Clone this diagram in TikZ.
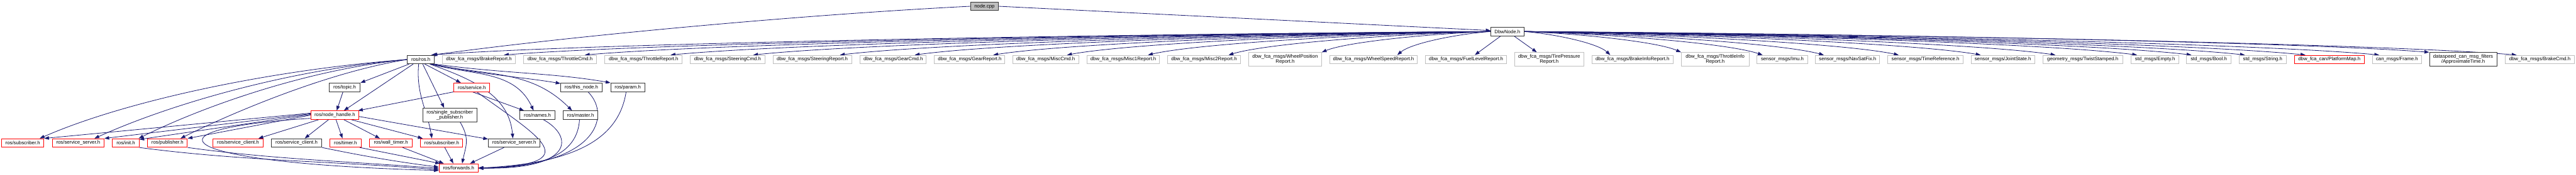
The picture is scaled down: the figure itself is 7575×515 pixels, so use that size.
\documentclass[tikz,border=0pt]{standalone}
\usepackage{fontspec}
\setmainfont{Liberation Sans}
\usetikzlibrary{arrows.meta}
\definecolor{edgec}{HTML}{191970}
\definecolor{greyb}{HTML}{BFBFBF}
\definecolor{redb}{HTML}{FF0000}
\definecolor{rootf}{HTML}{BFBFBF}
\definecolor{docb}{HTML}{333333}
\pgfdeclarelayer{bg}
\pgfsetlayers{bg,main}
\tikzset{
  box/.style={draw, fill=white, line width=1.8pt, inner sep=0pt, align=center,
    font=\fontsize{14.4}{15.5}\selectfont},
  doc/.style={box, draw=docb},
  undoc/.style={box, draw=greyb},
  trunc/.style={box, draw=redb},
  root/.style={box, draw=docb, fill=rootf},
  edge/.style={draw=edgec, line width=1.5pt, -{Triangle[length=14pt,width=10pt]}},
}
\newcommand{\bx}[7]{\node[#6, minimum width={(#3-#2)*1pt}, minimum height={(#5-#4)*1pt}] (#1) at ({(#2+#3)/2},{-(#4+#5)/2}) {#7};}
\begin{document}
\begin{tikzpicture}[x=1pt,y=1pt]
\useasboundingbox (0,0) rectangle (7575,-515);
% row 0/1
\bx{cpp}{2854}{2936}{6}{31}{root}{node.cpp}
\bx{dbw}{4384}{4481}{80}{106}{doc}{DbwNode.h}
% row 2
\bx{ros}{1198}{1277}{163}{188}{doc}{ros/ros.h}
\bx{brep}{1301}{1516}{163}{188}{undoc}{dbw\_fca\_msgs/BrakeReport.h}
\bx{tcmd}{1540}{1754}{163}{188}{undoc}{dbw\_fca\_msgs/ThrottleCmd.h}
\bx{trep}{1779}{2006}{163}{188}{undoc}{dbw\_fca\_msgs/ThrottleReport.h}
\bx{scmd}{2030}{2249}{163}{188}{undoc}{dbw\_fca\_msgs/SteeringCmd.h}
\bx{srep}{2273}{2504}{163}{188}{undoc}{dbw\_fca\_msgs/SteeringReport.h}
\bx{gcmd}{2529}{2724}{163}{188}{undoc}{dbw\_fca\_msgs/GearCmd.h}
\bx{grep}{2748}{2955}{163}{188}{undoc}{dbw\_fca\_msgs/GearReport.h}
\bx{mcmd}{2978}{3172}{163}{188}{undoc}{dbw\_fca\_msgs/MiscCmd.h}
\bx{mone}{3196}{3410}{163}{188}{undoc}{dbw\_fca\_msgs/Misc1Report.h}
\bx{mtwo}{3434}{3647}{163}{188}{undoc}{dbw\_fca\_msgs/Misc2Report.h}
\bx{wpos}{3672}{3886}{155}{195}{undoc}{dbw\_fca\_msgs/WheelPosition\\Report.h}
\bx{wspd}{3910}{4168}{163}{188}{undoc}{dbw\_fca\_msgs/WheelSpeedReport.h}
\bx{fuel}{4192}{4430}{163}{188}{undoc}{dbw\_fca\_msgs/FuelLevelReport.h}
\bx{tire}{4454}{4657}{155}{195}{undoc}{dbw\_fca\_msgs/TirePressure\\Report.h}
\bx{binfo}{4681}{4920}{163}{188}{undoc}{dbw\_fca\_msgs/BrakeInfoReport.h}
\bx{tinfo}{4944}{5143}{155}{195}{undoc}{dbw\_fca\_msgs/ThrottleInfo\\Report.h}
\bx{imu}{5167}{5315}{163}{188}{undoc}{sensor\_msgs/Imu.h}
\bx{nav}{5339}{5527}{163}{188}{undoc}{sensor\_msgs/NavSatFix.h}
\bx{tref}{5551}{5773}{163}{188}{undoc}{sensor\_msgs/TimeReference.h}
\bx{joint}{5796}{5983}{163}{188}{undoc}{sensor\_msgs/JointState.h}
\bx{twist}{6007}{6242}{163}{188}{undoc}{geometry\_msgs/TwistStamped.h}
\bx{empty}{6267}{6407}{163}{188}{undoc}{std\_msgs/Empty.h}
\bx{bool}{6430}{6560}{163}{188}{undoc}{std\_msgs/Bool.h}
\bx{string}{6584}{6723}{163}{188}{undoc}{std\_msgs/String.h}
\bx{pmap}{6747}{6952}{163}{188}{trunc}{dbw\_fca\_can/PlatformMap.h}
\bx{frame}{6977}{7120}{163}{188}{undoc}{can\_msgs/Frame.h}
\bx{approx}{7144}{7342}{155}{195}{doc}{dataspeed\_can\_msg\_filters\\/ApproximateTime.h}
\bx{bcmd}{7367}{7570}{163}{188}{undoc}{dbw\_fca\_msgs/BrakeCmd.h}
% row 3
\bx{topic}{968}{1059}{245}{270}{doc}{ros/topic.h}
\bx{serv}{1335}{1440}{245}{270}{trunc}{ros/service.h}
\bx{thisn}{1649}{1770}{245}{270}{doc}{ros/this\_node.h}
\bx{param}{1796}{1896}{245}{270}{doc}{ros/param.h}
% row 4
\bx{nh}{914}{1055}{327}{352}{trunc}{ros/node\_handle.h}
\bx{ssp}{1243}{1402}{319}{359}{doc}{ros/single\_subscriber\\\_publisher.h}
\bx{names}{1529}{1632}{327}{352}{doc}{ros/names.h}
\bx{master}{1656}{1758}{327}{352}{doc}{ros/master.h}
% row 5
\bx{subA}{5}{129}{409}{434}{trunc}{ros/subscriber.h}
\bx{ssA}{154}{306}{409}{434}{trunc}{ros/service\_server.h}
\bx{init}{331}{409}{409}{434}{trunc}{ros/init.h}
\bx{pub}{434}{551}{409}{434}{trunc}{ros/publisher.h}
\bx{scA}{626}{774}{409}{434}{trunc}{ros/service\_client.h}
\bx{scB}{798}{946}{409}{434}{doc}{ros/service\_client.h}
\bx{timer}{970}{1062}{409}{434}{trunc}{ros/timer.h}
\bx{wtimer}{1086}{1213}{409}{434}{trunc}{ros/wall\_timer.h}
\bx{subB}{1237}{1361}{409}{434}{trunc}{ros/subscriber.h}
\bx{ssB}{1436}{1588}{409}{434}{doc}{ros/service\_server.h}
% row 6
\bx{fwd}{1291}{1406}{483}{508}{trunc}{ros/forwards.h}

\begin{pgfonlayer}{bg}
% node.cpp
\draw[edge] (cpp.west) .. controls +(-500,-25) and +(400,55) .. ([xshift=-6pt]ros.north east);
\draw[edge] (cpp.east) -- ([yshift=3pt]dbw.west);
% DbwNode to the left: target / xshift / dx / dy
\foreach \tg/\sh/\dx/\dy in {brep/-35pt/2903/70,tcmd/-35pt/2665/70,trep/-35pt/2413/70,scmd/-35pt/2170/70,srep/-35pt/1915/70,gcmd/-35pt/1695/70,grep/-35pt/1464/70,mcmd/-35pt/1247/70,mone/-35pt/1009/70,mtwo/-35pt/772/70,ros/-10pt/3117/70,wpos/0pt/498/62,wspd/-60pt/276/70}
  \draw[edge] (dbw.west) .. controls +({-0.35*\dx},{-0.1*\dy}) and +({0.15*\dx},{0.5*\dy}) .. ([xshift=\sh]\tg.north east);
\draw[edge] ([xshift=29pt]dbw.south west) -- ([xshift=-94pt]fuel.north east);
% DbwNode to the right
\draw[edge] ([xshift=-29pt]dbw.south east) -- ([xshift=66pt]tire.north west);
\foreach \tg/\sh/\dx/\dy in {binfo/55pt/255/70,tinfo/0pt/463/62,imu/17pt/703/70,nav/25pt/883/70,tref/33pt/1103/70,joint/29pt/1344/70,twist/38pt/1564/70,empty/18pt/1804/70,bool/15pt/1964/70,string/18pt/2121/70,pmap/33pt/2299/70,frame/20pt/2516/70,approx/0pt/2663/62,bcmd/34pt/2920/70}
  \draw[edge] (dbw.east) .. controls +({0.35*\dx},{-0.1*\dy}) and +({-0.15*\dx},{0.5*\dy}) .. ([xshift=\sh]\tg.north west);
% ros.h
\draw[edge] (ros.west) .. controls +(-400,-30) and +(250,110) .. ([xshift=-13pt]subA.north east);
\draw[edge] (ros.west) .. controls +(-350,-30) and +(220,100) .. ([xshift=-29pt]ssA.north east);
\draw[edge] (ros.west) .. controls +(-300,-30) and +(180,90) .. ([xshift=-2pt]init.north east);
\draw[edge] (ros.west) .. controls +(-250,-40) and +(120,60) .. ([xshift=-21pt]pub.north east);
\draw[edge] ([xshift=6pt]ros.south west) -- (topic.north east);
\draw[edge] ([xshift=18pt]ros.south west) -- ([xshift=98pt]nh.north west);
\draw[edge] ([xshift=52pt]ros.south west) -- ([xshift=21pt]serv.north west);
\draw[edge] ([xshift=46pt]ros.south west) -- ([xshift=64pt]ssp.north west);
\draw[edge] ([xshift=-12pt]ros.south east) .. controls +(127,-34) and +(-55,119) .. ([xshift=41pt]names.north west);
\draw[edge] ([xshift=-10pt]ros.south east) .. controls +(168,-36) and +(-122,122) .. ([xshift=27pt]master.north west);
\draw[edge] ([xshift=-6pt]ros.south east) .. controls +(150,-32) and +(-120,20) .. ([yshift=-2pt]thisn.north west);
\draw[edge] (ros.south east) .. controls +(200,-28) and +(-170,30) .. (param.north west);
\draw[edge] ([xshift=-14pt]ros.south east) .. controls +(122,-44) and +(-11,129) .. ([xshift=73pt]ssB.north west);
\draw[edge] ([xshift=34pt]ros.south west) .. controls +(-8,-88) and +(-15,87) .. ([xshift=34pt]subB.north west);
% topic, service
\draw[edge] ([xshift=-5pt]topic.south) -- ([xshift=77pt]nh.north west);
\draw[edge] (serv.south west) -- ([xshift=-3pt]nh.north east);
\draw[edge] ([xshift=55pt]serv.south west) -- ([xshift=13pt]names.north west);
\draw[edge] ([xshift=68pt]serv.south west) .. controls +(177,-130) and +(332,10) .. (fwd.east);
% to forwards from the right
\draw[edge] ([xshift=70pt]names.south west) .. controls +(90,-50) and +(280,-5) .. (fwd.east);
\draw[edge] ([xshift=49pt]master.south west) .. controls +(-5,-80) and +(230,0) .. (fwd.east);
\draw[edge] ([xshift=81pt]thisn.south west) .. controls +(70,-70) and +(350,5) .. (fwd.east);
\draw[edge] ([xshift=46pt]param.south west) .. controls +(-20,-130) and +(300,15) .. (fwd.east);
% to forwards from the left
\draw[edge] (init.south east) .. controls +(300,-40) and +(-300,25) .. ([yshift=-5pt]fwd.west);
\draw[edge] (pub.south east) .. controls +(250,-35) and +(-250,20) .. ([yshift=-1pt]fwd.west);
\draw[edge] ([yshift=4pt]nh.south west) .. controls +(-514,-32) and +(-791,21) .. ([yshift=-7pt]fwd.west);
\draw[edge] (scB.south east) .. controls +(120,-25) and +(-120,15) .. ([yshift=3pt]fwd.west);
\draw[edge] ([xshift=-5pt]timer.south east) -- ([xshift=4pt]fwd.north west);
\draw[edge] ([xshift=-30pt]wtimer.south east) -- ([xshift=15pt]fwd.north west);
\draw[edge] ([xshift=-54pt]subB.south east) -- ([xshift=43pt]fwd.north west);
\draw[edge] ([xshift=-50pt]ssp.south east) .. controls +(30,-50) and +(10,50) .. ([xshift=69pt]fwd.north west);
\draw[edge] ([xshift=47pt]ssB.south west) -- ([xshift=92pt]fwd.north west);
% node_handle
\draw[edge] ([yshift=6pt]nh.west) -- (subA.north east);
\draw[edge] ([yshift=4pt]nh.west) -- (ssA.north east);
\draw[edge] ([yshift=2pt]nh.west) -- ([yshift=-3pt]init.north east);
\draw[edge] (nh.west) -- (pub.north east);
\draw[edge] ([xshift=24pt]nh.south west) -- ([xshift=-15pt]scA.north east);
\draw[edge] ([xshift=53pt]nh.south west) -- ([xshift=99pt]scB.north west);
\draw[edge] ([xshift=75pt]nh.south west) -- ([xshift=38pt]timer.north west);
\draw[edge] ([xshift=98pt]nh.south west) -- ([xshift=32pt]wtimer.north west);
\draw[edge] ([xshift=120pt]nh.south west) -- ([xshift=7pt]subB.north west);
\draw[edge] ([yshift=-4pt]nh.east) -- ([yshift=-2pt]ssB.north west);
\end{pgfonlayer}
\end{tikzpicture}
\end{document}
